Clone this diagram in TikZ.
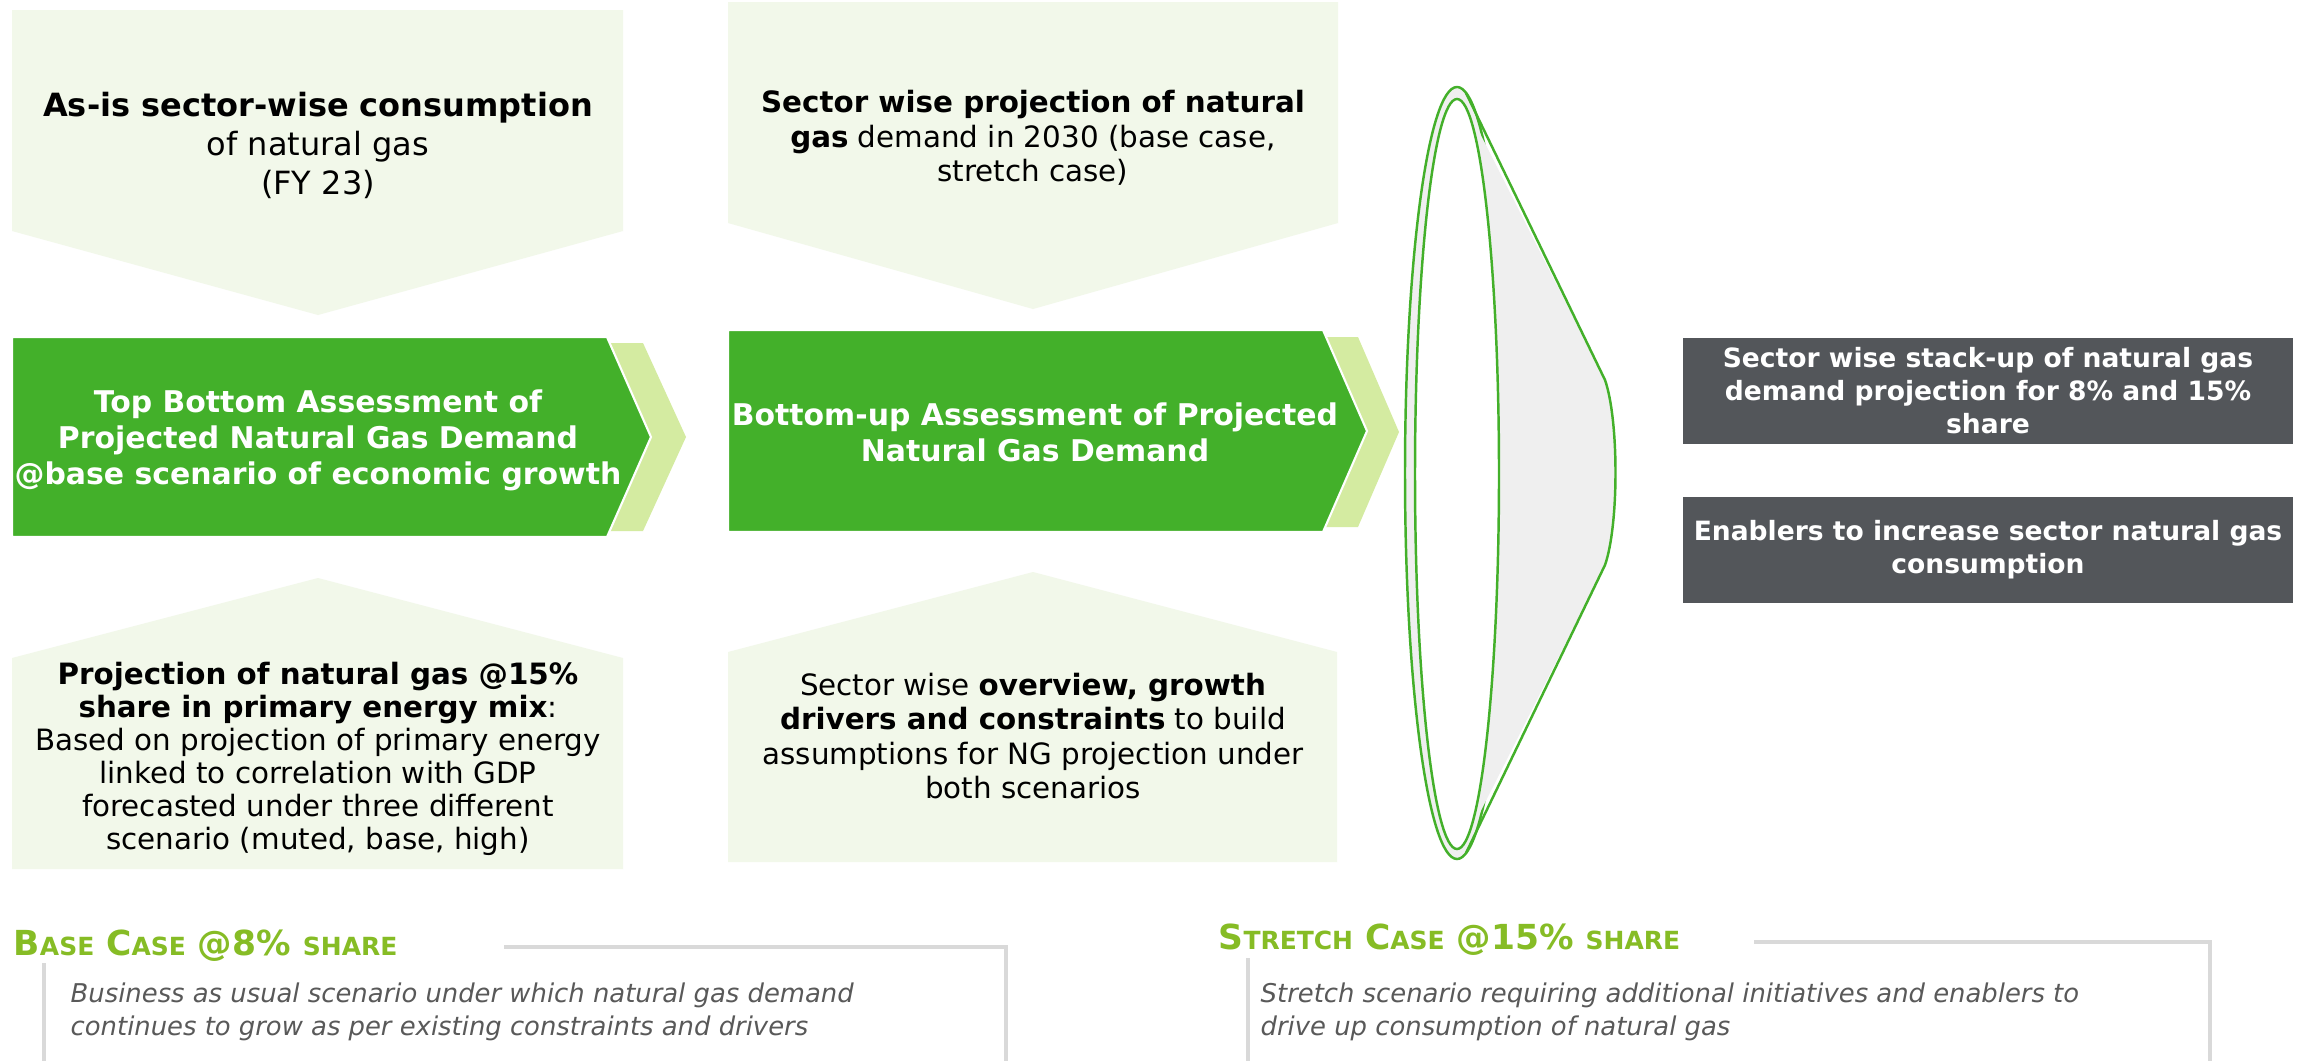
\documentclass[tikz,border=0pt]{standalone}
\usepackage{fontspec}
\setmainfont{DejaVu Sans}
\newcommand{\capsmall}[1]{{\fontsize{7.1}{9}\selectfont #1}}
\begin{document}
\begin{tikzpicture}[x=0.01cm,y=-0.01cm]
\definecolor{paleg}{RGB}{242,248,234}
\definecolor{darkg}{RGB}{67,176,42}
\definecolor{lightg}{RGB}{212,235,161}
\definecolor{slate}{RGB}{83,86,90}
\definecolor{titleg}{RGB}{134,188,37}
\definecolor{rulegray}{RGB}{217,217,217}
\definecolor{notegray}{RGB}{89,89,89}
\definecolor{conegray}{RGB}{239,239,239}
\tikzset{
  panel/.style={fill=paleg},
  flow/.style={fill=darkg, draw=white, line width=0.6pt},
  flowtail/.style={fill=lightg},
  bigtext/.style={align=center, inner sep=0pt, font=\fontsize{9.1}{11.1}\selectfont},
  paneltext/.style={align=center, inner sep=0pt, font=\fontsize{8.35}{9.8}\selectfont},
  densetext/.style={paneltext, font=\fontsize{8.35}{9.4}\selectfont},
  flowtext/.style={align=center, inner sep=0pt, text=white, font=\bfseries\fontsize{8.5}{10.2}\selectfont},
  graybox/.style={fill=slate, text=white, align=center, minimum width=6.1cm, minimum height=1.06cm, inner sep=0pt, font=\bfseries\fontsize{7.55}{9.4}\selectfont},
  casetitle/.style={anchor=west, inner sep=0pt, text=titleg, font=\bfseries\fontsize{9.8}{12}\selectfont},
  casenote/.style={anchor=west, inner sep=0pt, align=left, text=notegray, font=\itshape\fontsize{7.35}{9.2}\selectfont},
  frame/.style={draw=rulegray, line width=1.1pt},
  funnel/.style={draw=darkg, line width=0.7pt}
}
\useasboundingbox (0,0) rectangle (2305,1060);
\fill[white] (0,0) rectangle (2305,1060);

% input panels pointing into the assessments
\fill[panel] (12,10) -- (623,10) -- (623,231) -- (318,315) -- (12,231) -- cycle;
\fill[panel] (728,2) -- (1338,2) -- (1338,223) -- (1033,309) -- (728,223) -- cycle;
\fill[panel] (12,869) -- (12,658) -- (318,578) -- (623,658) -- (623,869) -- cycle;
\fill[panel] (728,862) -- (728,652) -- (1033,572) -- (1337,652) -- (1337,862) -- cycle;

\node[bigtext] (asis) at (318,145) {\textbf{As-is sector-wise consumption}\\of natural gas\\(FY 23)};
\node[paneltext] (sectorproj) at (1033,138) {\textbf{Sector wise projection of natural}\\\textbf{gas} demand in 2030 (base case,\\stretch case)};
\node[densetext] (share15) at (318,759) {\textbf{Projection of natural gas @15\%}\\\textbf{share in primary energy mix}:\\Based on projection of primary energy\\linked to correlation with GDP\\forecasted under three different\\scenario (muted, base, high)};
\node[paneltext] (overview) at (1033,736) {Sector wise \textbf{overview, growth}\\\textbf{drivers and constraints} to build\\assumptions for NG projection under\\both scenarios};

% assessment arrows
\fill[flowtail] (560,343) -- (643,343) -- (686,437) -- (643,531) -- (560,531) -- cycle;
\path[flow] (12,337) -- (607,337) -- (651,437) -- (607,537) -- (12,537) -- cycle;
\node[flowtext] (topdown) at (318,440) {Top Bottom Assessment of\\Projected Natural Gas Demand\\@base scenario of economic growth};

\fill[flowtail] (1280,337) -- (1358,337) -- (1399,432) -- (1358,527) -- (1280,527) -- cycle;
\path[flow] (728,330) -- (1323,330) -- (1367,431) -- (1323,532) -- (728,532) -- cycle;
\node[flowtext] (bottomup) at (1035,432) {Bottom-up Assessment of Projected\\Natural Gas Demand};

% funnel
\path[fill=conegray, funnel] (1457,473) ellipse [x radius=52, y radius=386];
\fill[conegray] (1457,88) -- (1605,380) .. controls (1619,420) and (1619,525) .. (1605,565) -- (1457,858) -- cycle;
\draw[funnel] (1466,93) -- (1605,380) .. controls (1619,420) and (1619,525) .. (1605,565) -- (1466,853);
\path[fill=white, funnel] (1457,474) ellipse [x radius=42, y radius=375];

% outputs
\node[graybox] (stackup) at (1988,391) {Sector wise stack-up of natural gas\\demand projection for 8\% and 15\%\\share};
\node[graybox] (enablers) at (1988,550) {Enablers to increase sector natural gas\\consumption};

% scenario notes
\node[casetitle] (basetitle) at (13,946) {B\capsmall{ASE} C\capsmall{ASE} @8\% \capsmall{SHARE}};
\draw[frame] (504,947) -- (1006,947) -- (1006,1062);
\draw[frame] (44,963) -- (44,1062);
\node[casenote] (basenote) at (70,1012) {Business as usual scenario under which natural gas demand\\continues to grow as per existing constraints and drivers};

\node[casetitle] (stretchtitle) at (1218,940) {S\capsmall{TRETCH} C\capsmall{ASE} @15\% \capsmall{SHARE}};
\draw[frame] (1754,942) -- (2210,942) -- (2210,1062);
\draw[frame] (1248,958) -- (1248,1062);
\node[casenote] (stretchnote) at (1260,1012) {Stretch scenario requiring additional initiatives and enablers to\\drive up consumption of natural gas};
\end{tikzpicture}
\end{document}
